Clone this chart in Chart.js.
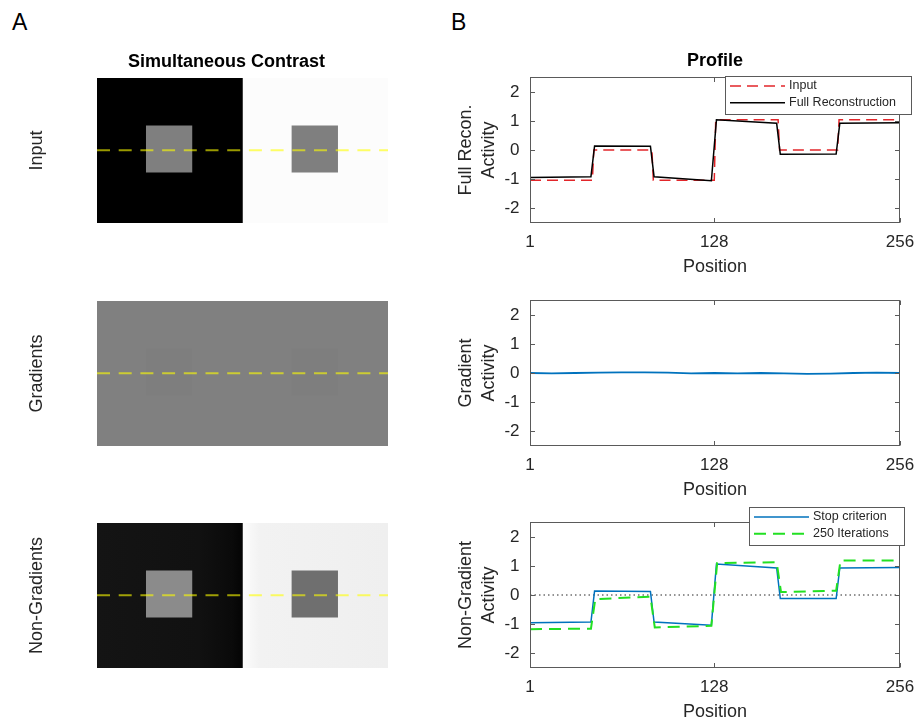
<!DOCTYPE html>
<html><head><meta charset="utf-8">
<script src="https://cdn.jsdelivr.net/npm/chart.js@4.4.1/dist/chart.umd.min.js"></script>
<style>
html,body{margin:0;padding:0;background:#fff;}
body{width:916px;height:721px;overflow:hidden;position:relative;font-family:'Liberation Sans',Arial,Helvetica,sans-serif;}
canvas{position:absolute;}
.panel{position:absolute;font-size:23px;line-height:23px;color:#000;}
</style></head>
<body>
<div class="panel" style="left:12px;top:11px">A</div>
<div class="panel" style="left:451px;top:11px">B</div>
<canvas id="imgInput" width="453" height="280" style="left:0;top:0"></canvas>
<canvas id="imgGrad" width="453" height="280" style="left:0;top:223px"></canvas>
<canvas id="imgNon" width="453" height="280" style="left:0;top:445px"></canvas>
<canvas id="prFull" width="476" height="280" style="left:440px;top:0"></canvas>
<canvas id="prGrad" width="476" height="280" style="left:440px;top:223px"></canvas>
<canvas id="prNon" width="476" height="280" style="left:440px;top:445px"></canvas>
<script>
// ---------- DATA ----------
// Panel B: profiles along the dashed line (position 1..256)
const xTicks = [1, 128, 256];
const yTicks = [-2, -1, 0, 1, 2];
const inputPos = [1, 44, 45, 85, 86, 128, 129, 172, 173, 213, 214, 256];
const inputVal = [-1.04, -1.04, 0, 0, -1.04, -1.04, 1.04, 1.04, 0, 0, 1.04, 1.04];
const fullPos = [1, 43, 45.5, 84, 86.5, 126, 129.5, 171, 173.5, 212, 214.5, 256];
const fullVal = [-0.95, -0.92, 0.14, 0.13, -0.92, -1.06, 1.04, 0.92, -0.15, -0.14, 0.92, 0.94];
const gradPos = [1, 16, 32, 48, 64, 80, 96, 112, 128, 144, 160, 176, 192, 208, 224, 240, 256];
const gradVal = [0.00, -0.01, 0.00, 0.01, 0.02, 0.02, 0.01, -0.01, 0.00, -0.01, 0.00, -0.01, -0.03, -0.02, 0.00, 0.01, 0.00];
const stopPos = [1, 43, 45.5, 84, 86.5, 126, 129.5, 171, 173.5, 212, 214.5, 256];
const stopVal = [-0.96, -0.93, 0.14, 0.12, -0.93, -1.04, 1.07, 0.93, -0.12, -0.12, 0.93, 0.95];
const iterPos = [1, 43, 46, 84, 87, 126, 130, 171, 174, 212, 215, 256];
const iterVal = [-1.18, -1.16, -0.14, -0.06, -1.12, -1.06, 1.10, 1.13, 0.10, 0.15, 1.19, 1.19];
const refPos = [1, 256];
const refVal = [0, 0];

// Panel A: images (256 columns x 128 rows), gray levels 0..255
const imgFull = [0, 256];
const imgRows = [0, 128];
const imgHalves = [[0, 128], [128, 256]];
const squareCols = [[43, 84], [171, 212]];
const squareRows = [42, 83.5];
const profileRow = 63.8;
const inputBg = [0, 252];
const inputSq = [127, 127];
const gradBg = [128, 128];
const gradSq = [126, 126];
const nonBg = [17, 241];
const nonSq = [139, 111];
const nonLeftStops = [[0, 20], [0.7, 17], [0.93, 10], [1, 4]];
const nonRightStops = [[0, 252], [0.12, 242], [1, 239]];

// ---------- HELPERS ----------
const FONT = "'Liberation Sans', Arial, Helvetica, sans-serif";
Chart.defaults.font.family = FONT;
Chart.defaults.color = '#262626';
const gray = v => `rgb(${v},${v},${v})`;
const pts = (xs, ys) => xs.map((x, i) => ({x, y: ys[i]}));
// left half is drawn slightly under the right half so no antialiasing seam shows
const underlap = cols => [cols[0], cols[1] + 0.5];

function rectSet(cols, rows, color, order) {
  return {data: [{x: cols[0], y: rows[0]}, {x: cols[1], y: rows[0]}], fill: {value: rows[1]},
    backgroundColor: color, borderColor: 'rgba(0,0,0,0)', borderWidth: 0, pointRadius: 0, order};
}
function gradColor(cols, stops, fallback) {
  return (c) => {
    const ch = c.chart, xs = ch.scales && ch.scales.x;
    if (!xs || !ch.chartArea) return fallback;
    const g = ch.ctx.createLinearGradient(xs.getPixelForValue(cols[0]), 0, xs.getPixelForValue(cols[1]), 0);
    stops.forEach(([t, v]) => g.addColorStop(t, gray(v)));
    return g;
  };
}
function lineSet() {
  return {data: [{x: 0, y: profileRow}, {x: 256, y: profileRow}], borderColor: 'rgba(255,255,0,0.6)',
    borderWidth: 2, borderDash: [13, 8.7], pointRadius: 0, fill: false, order: 1};
}

function imageChart(id, rowLabel, datasets, titleText) {
  return new Chart(document.getElementById(id), {
    type: 'line',
    data: {datasets},
    options: {
      responsive: false, animation: false, events: [],
      layout: {padding: {top: titleText ? 0 : 78, bottom: 57, left: 0, right: 0}},
      scales: {
        x: {type: 'linear', min: imgFull[0], max: imgFull[1], display: false},
        y: {type: 'linear', min: imgRows[0], max: imgRows[1], reverse: true, position: 'left',
            ticks: {display: false}, grid: {display: false, drawTicks: false}, border: {display: false},
            title: {display: true, text: rowLabel, font: {size: 18}, color: '#262626', padding: {top: 26, bottom: 0}},
            afterFit: s => { s.width = 97; }},
        y2: {type: 'linear', position: 'right', ticks: {display: false},
             grid: {display: false, drawTicks: false}, border: {display: false},
             afterFit: s => { s.width = 65; }}
      },
      plugins: {
        legend: {display: false}, tooltip: {enabled: false},
        title: titleText ? {display: true, text: titleText, fullSize: true, color: '#000',
          font: {size: 18, weight: 'bold'}, padding: {top: 51.7, bottom: 4.7}} : {display: false}
      }
    }
  });
}

// frame + inward ticks
const framePlugin = {
  id: 'frame',
  afterDatasetsDraw(chart) {
    const {ctx, chartArea: a, scales} = chart;
    const L = Math.floor(a.left) + 0.5, R = Math.floor(a.right) - 0.5;
    const T = Math.floor(a.top) + 0.5, B = Math.floor(a.bottom) + 0.5;
    ctx.save();
    ctx.strokeStyle = '#5a5a5a'; ctx.lineWidth = 1; ctx.setLineDash([]);
    ctx.strokeRect(L, T, R - L, B - T);
    const len = 4.5;
    ctx.beginPath();
    scales.x.ticks.forEach(t => {
      const px = Math.round(scales.x.getPixelForValue(t.value)) + 0.5;
      ctx.moveTo(px, B); ctx.lineTo(px, B - len);
      ctx.moveTo(px, T); ctx.lineTo(px, T + len);
    });
    scales.y.ticks.forEach(t => {
      const py = Math.round(scales.y.getPixelForValue(t.value)) + 0.5;
      ctx.moveTo(L, py); ctx.lineTo(L + len, py);
      ctx.moveTo(R, py); ctx.lineTo(R - len, py);
    });
    ctx.stroke();
    ctx.restore();
  }
};

// boxed legend inside axes (MATLAB style)
const boxLegend = {
  id: 'boxLegend',
  afterDraw(chart, args, o) {
    if (!o || !o.items) return;
    const {ctx, chartArea: a} = chart;
    ctx.save();
    ctx.font = `${o.fontSize}px ${FONT}`;
    const labels = o.items.map(i => chart.data.datasets[i].label);
    const tw = Math.max(...labels.map(t => ctx.measureText(t).width));
    const w = Math.round(o.textX + tw + o.padRight);
    const right = Math.round(a.right + o.dx), left = right - w, top = Math.round(a.top + o.dy);
    ctx.fillStyle = '#fff';
    ctx.fillRect(left, top, w, o.height);
    ctx.strokeStyle = '#5a5a5a'; ctx.lineWidth = 1;
    ctx.strokeRect(left + 0.5, top + 0.5, w, o.height);
    o.items.forEach((di, k) => {
      const ds = chart.data.datasets[di];
      const y = top + o.row0 + k * o.rowGap;
      ctx.beginPath();
      ctx.setLineDash(ds.borderDash || []);
      ctx.strokeStyle = ds.borderColor; ctx.lineWidth = ds.borderWidth;
      ctx.moveTo(left + o.lineX0, y); ctx.lineTo(left + o.lineX1, y); ctx.stroke();
      ctx.setLineDash([]);
      ctx.fillStyle = '#262626'; ctx.textBaseline = 'middle'; ctx.textAlign = 'left';
      ctx.fillText(ds.label, left + o.textX, y);
    });
    ctx.restore();
  }
};

function profileChart(id, yLabel, datasets, extra) {
  return new Chart(document.getElementById(id), {
    type: 'line',
    data: {datasets},
    plugins: [framePlugin, boxLegend],
    options: {
      responsive: false, animation: false, events: [],
      layout: {padding: {top: extra.title ? 0 : 77.5, bottom: 0, left: 0, right: 16}},
      scales: {
        x: {type: 'linear', min: 1, max: 256,
            afterBuildTicks: s => { s.ticks = xTicks.map(v => ({value: v})); },
            ticks: {font: {size: 17}, color: '#262626', padding: 9.5, maxRotation: 0, autoSkip: false,
                    callback: v => String(v)},
            grid: {display: false, drawTicks: false}, border: {display: false},
            title: {display: true, text: 'Position', font: {size: 18}, color: '#262626', padding: {top: 0, bottom: 2.5}},
            afterFit: s => { s.height = 57.5; s.paddingLeft = 0; s.paddingRight = 0; }},
        y: {type: 'linear', min: -2.5, max: 2.5,
            afterBuildTicks: s => { s.ticks = yTicks.map(v => ({value: v})); },
            ticks: {font: {size: 17}, color: '#262626', padding: 10.5, callback: v => String(v)},
            grid: {display: false, drawTicks: false}, border: {display: false},
            title: {display: true, text: yLabel, font: {size: 18, lineHeight: '23px'}, color: '#262626', padding: {top: 14.5, bottom: 0}},
            afterFit: s => { s.width = 90; s.paddingTop = 0; s.paddingBottom = 0; }}
      },
      plugins: {
        legend: {display: false}, tooltip: {enabled: false},
        title: extra.title ? {display: true, text: extra.title, fullSize: false, color: '#000',
          font: {size: 18, weight: 'bold'}, padding: {top: 50.2, bottom: 5.7}} : {display: false},
        boxLegend: extra.legend || {}
      }
    }
  });
}
const ln = (label, xs, ys, color, width, dash) => ({label, data: pts(xs, ys), borderColor: color,
  borderWidth: width, borderDash: dash, pointRadius: 0, fill: false, tension: 0});

// ---------- PANEL A ----------
imageChart('imgInput', 'Input', [
  lineSet(),
  rectSet(squareCols[0], squareRows, gray(inputSq[0]), 2),
  rectSet(squareCols[1], squareRows, gray(inputSq[1]), 2),
  rectSet(imgHalves[1], imgRows, gray(inputBg[1]), 3),
  rectSet(underlap(imgHalves[0]), imgRows, gray(inputBg[0]), 4)
], 'Simultaneous Contrast');

imageChart('imgGrad', 'Gradients', [
  lineSet(),
  rectSet(squareCols[0], squareRows, gray(gradSq[0]), 2),
  rectSet(squareCols[1], squareRows, gray(gradSq[1]), 2),
  rectSet(imgHalves[1], imgRows, gray(gradBg[1]), 3),
  rectSet(underlap(imgHalves[0]), imgRows, gray(gradBg[0]), 4)
]);

const nonL = rectSet(underlap(imgHalves[0]), imgRows, gray(nonBg[0]), 4);
nonL.backgroundColor = gradColor(imgHalves[0], nonLeftStops, gray(nonBg[0]));
const nonR = rectSet(imgHalves[1], imgRows, gray(nonBg[1]), 3);
nonR.backgroundColor = gradColor(imgHalves[1], nonRightStops, gray(nonBg[1]));
imageChart('imgNon', 'Non-Gradients', [
  lineSet(),
  rectSet(squareCols[0], squareRows, gray(nonSq[0]), 2),
  rectSet(squareCols[1], squareRows, gray(nonSq[1]), 2),
  nonR, nonL
]);

// ---------- PANEL B ----------
const legendGeom = {fontSize: 12.5, textX: 64, padRight: 15.5, lineX0: 5, lineX1: 60, row0: 10, rowGap: 16.7, height: 38};
profileChart('prFull', ['Full Recon.', 'Activity'], [
  ln('Full Reconstruction', fullPos, fullVal, '#000000', 1.5, []),
  ln('Input', inputPos, inputVal, '#e2262a', 1.5, [11, 6])
], {title: 'Profile', legend: Object.assign({items: [1, 0], dx: 11, dy: -2}, legendGeom)});

profileChart('prGrad', ['Gradient', 'Activity'], [
  ln('Gradient', gradPos, gradVal, '#0072bd', 1.8, [])
], {});

profileChart('prNon', ['Non-Gradient', 'Activity'], [
  ln('250 Iterations', iterPos, iterVal, '#22e022', 2, [12, 7]),
  ln('Stop criterion', stopPos, stopVal, '#0072bd', 1.5, []),
  ln('zero', refPos, refVal, '#262626', 1, [1.5, 3])
], {legend: Object.assign({items: [1, 0], dx: 4.3, dy: -15.5}, legendGeom)});
</script>
</body></html>
